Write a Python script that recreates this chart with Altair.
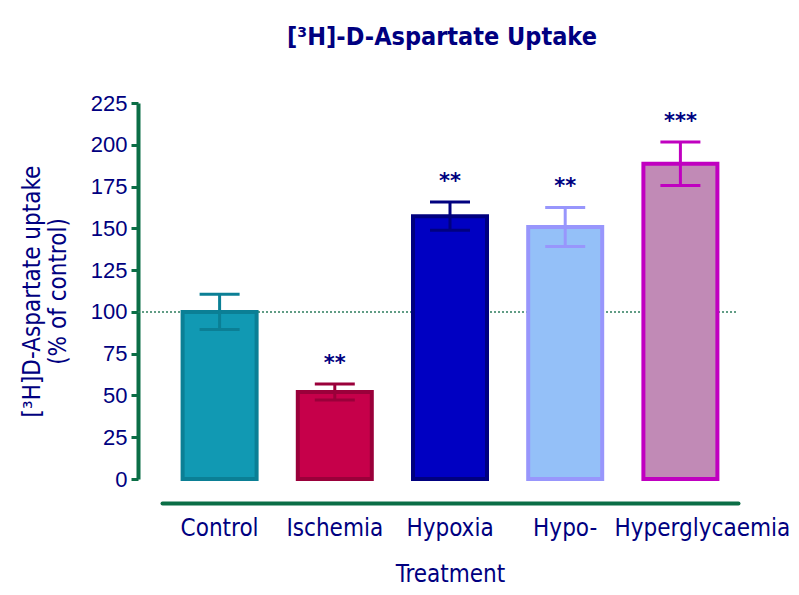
import altair as alt
import pandas as pd

treatments = ["Control", "Ischemia", "Hypoxia", "Hypo-", "Hyperglycaemia"]
means = [100, 52, 157.3, 150.8, 188.6]
sems = [10.5, 4.8, 8.4, 11.7, 13.0]
stars = ["", "**", "**", "**", "***"]
fills = ["#1199b3", "#c6004a", "#0000c2", "#94c0f8", "#c18ab6"]
strokes = ["#0b7f95", "#9a003a", "#00007f", "#9896fc", "#c000c0"]
y_ticks = [0, 25, 50, 75, 100, 125, 150, 175, 200, 225]
control_level = [100]

NAVY = "#000080"
GREEN = "#0b6e46"
FONT = "DejaVu Sans Condensed"

df = pd.DataFrame({
    "treatment": treatments,
    "mean": means,
    "lo": [m - s for m, s in zip(means, sems)],
    "hi": [m + s for m, s in zip(means, sems)],
    "stars": stars,
})
ref = pd.DataFrame({"level": control_level})

xenc = alt.X(
    "treatment:N",
    sort=treatments,
    scale=alt.Scale(paddingInner=0.32, paddingOuter=0.16),
    axis=alt.Axis(
        title="Treatment",
        offset=24,
        domainColor=GREEN,
        domainWidth=4,
        domainCap="round",
        ticks=False,
        labelAngle=0,
        labelFont=FONT,
        labelFontSize=24,
        labelColor=NAVY,
        labelPadding=13,
        labelOffset={"condition": {"test": "datum.label == 'Hyperglycaemia'", "value": 22}, "value": 0},
        titleFont=FONT,
        titleFontSize=24,
        titleFontWeight="normal",
        titleColor=NAVY,
        titlePadding=22,
    ),
)
yscale = alt.Scale(domain=[0, 225], nice=False)
yaxis = alt.Axis(
    title=["[³H]D-Aspartate uptake", "(% of control)"],
    values=y_ticks,
    offset=24,
    grid=False,
    domainColor=GREEN,
    domainWidth=4,
    tickColor=GREEN,
    tickWidth=3,
    tickSize=7,
    labelFont="Liberation Sans",
    labelFontSize=22,
    labelColor=NAVY,
    labelPadding=4,
    titleFont=FONT,
    titleFontSize=24,
    titleFontWeight="normal",
    titleColor=NAVY,
    titleLineHeight=26,
    titlePadding=20,
)

color_scale = alt.Scale(domain=treatments, range=fills)
stroke_scale = alt.Scale(domain=treatments, range=strokes)

base = alt.Chart(df)

refline = alt.Chart(ref).mark_rule(color="#2e7d5e", strokeDash=[2, 2], strokeWidth=1.5).encode(
    y=alt.Y("level:Q", scale=yscale, axis=yaxis),
    x=alt.value(-24),
    x2=alt.value(576),
)

bars = base.mark_bar(size=74, strokeWidth=4, opacity=1).encode(
    x=xenc,
    y=alt.Y("mean:Q", scale=yscale, axis=yaxis),
    fill=alt.Fill("treatment:N", scale=color_scale, legend=None),
    stroke=alt.Stroke("treatment:N", scale=stroke_scale, legend=None),
)

err = base.mark_rule(strokeWidth=3, opacity=1).encode(
    x=alt.X("treatment:N", sort=treatments),
    y=alt.Y("lo:Q", scale=yscale),
    y2="hi:Q",
    stroke=alt.Stroke("treatment:N", scale=stroke_scale, legend=None),
)
cap_hi = base.mark_tick(size=40, thickness=3, orient="horizontal", opacity=1).encode(
    x=alt.X("treatment:N", sort=treatments),
    y=alt.Y("hi:Q", scale=yscale),
    color=alt.Color("treatment:N", scale=stroke_scale, legend=None),
)
cap_lo = base.mark_tick(size=40, thickness=3, orient="horizontal", opacity=1).encode(
    x=alt.X("treatment:N", sort=treatments),
    y=alt.Y("lo:Q", scale=yscale),
    color=alt.Color("treatment:N", scale=stroke_scale, legend=None),
)
star_text = base.mark_text(
    font="DejaVu Sans", fontSize=21, fontWeight="bold", color=NAVY, dy=-20, baseline="middle"
).encode(
    x=alt.X("treatment:N", sort=treatments),
    y=alt.Y("hi:Q", scale=yscale),
    text="stars:N",
)

chart = alt.layer(refline, bars, err, cap_hi, cap_lo, star_text).properties(
    width=576,
    height=376,
    background="white",
    title=alt.TitleParams(
        text="[³H]-D-Aspartate Uptake",
        font=FONT,
        fontSize=25,
        fontWeight="bold",
        color=NAVY,
        anchor="middle",
        dx=-8,
        offset=42,
    ),
    autosize=alt.AutoSizeParams(type="none"),
    padding={"left": 154, "top": 95, "right": 53, "bottom": 108},
).configure_view(strokeWidth=0, stroke=None)

chart.save("out.html", embed_options={"renderer": "svg", "actions": False})
